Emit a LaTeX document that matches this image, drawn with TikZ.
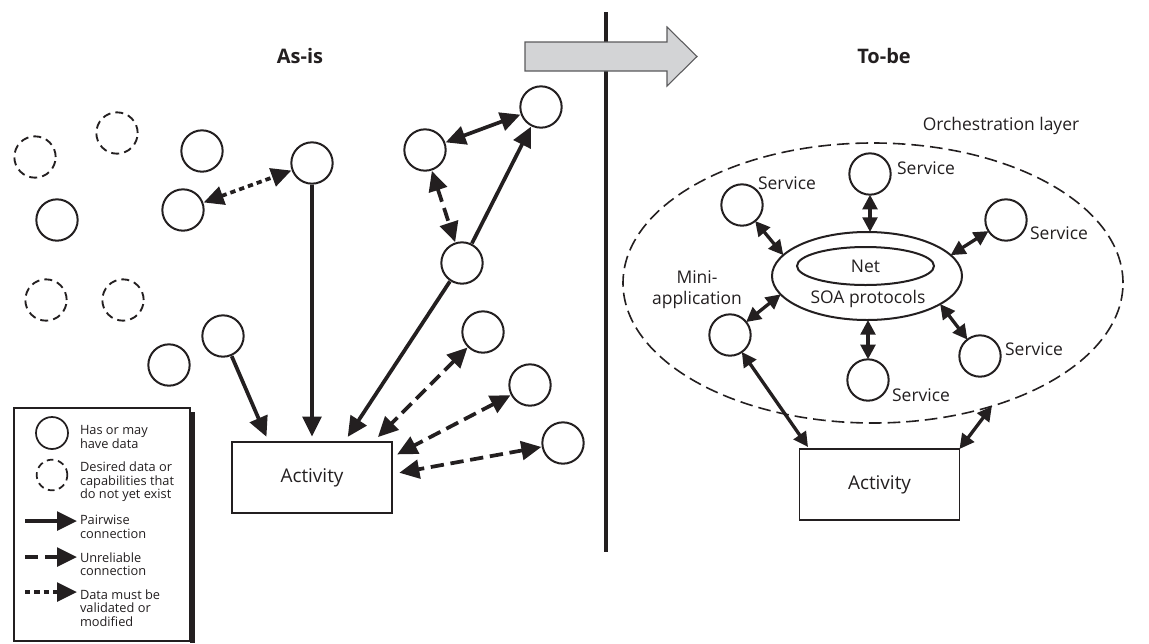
\documentclass[tikz,border=0pt]{standalone}
\usepackage{fontspec}
\setmainfont{Open Sans}
\usetikzlibrary{arrows.meta,shapes.geometric}
\definecolor{ink}{RGB}{35,31,32}
\definecolor{panel}{RGB}{211,212,214}
\definecolor{rim}{RGB}{90,90,92}
\begin{document}
\begin{tikzpicture}[x=0.75pt,y=-0.75pt,
  every node/.style={inner sep=0pt, outer sep=0pt, text=ink},
  datanode/.style={circle, draw=ink, line width=1.5pt, minimum size=31pt},
  ghost/.style={circle, draw=ink, line width=1.4pt, dash pattern=on 6pt off 3.8pt, minimum size=31pt},
  keydata/.style={circle, draw=ink, line width=1.3pt, minimum size=24pt},
  keyghost/.style={circle, draw=ink, line width=1.3pt, dash pattern=on 5pt off 3.5pt, minimum size=23pt},
  actbox/.style={rectangle, draw=ink, line width=1.1pt, minimum width=120pt, minimum height=53.25pt, font=\fontsize{14.2}{17}\selectfont},
  lbl/.style={font=\fontsize{13.1}{15.5}\selectfont},
  keytext/.style={anchor=west, align=left, font=\fontsize{9.6}{10.2}\selectfont},
  title/.style={font=\fontsize{15}{18}\selectfont\bfseries},
  conn/.style={line width=2.8pt, draw=ink, shorten >=1pt, shorten <=1pt, -{Triangle[length=15pt,width=14pt]}},
  connboth/.style={conn, {Triangle[length=15pt,width=14pt]}-{Triangle[length=15pt,width=14pt]}},
  unrel/.style={connboth, dash pattern=on 10pt off 5pt},
  checked/.style={connboth, dash pattern=on 4pt off 3pt},
  soalink/.style={line width=2.5pt, draw=ink, {Triangle[length=11pt,width=11pt]}-{Triangle[length=11pt,width=11pt]}},
  keyarrow/.style={line width=2.8pt, draw=ink, -{Triangle[length=15pt,width=14pt]}},
]
\useasboundingbox (0,0) rectangle (1149,643);

% divider and transition arrow
\draw[ink, line width=3.2pt] (606,12) -- (606,552);
\draw[rim, line width=0.8pt, fill=panel]
  (525,42) -- (667,42) -- (667,27) -- (697,56.5) -- (667,86) -- (667,71) -- (525,71) -- cycle;

\node[title] (asis) at (300,56) {As-is};
\node[title] (tobe) at (884,56) {To-be};

% ---------- current state ----------
\node[ghost] (d1) at (35,157) {};
\node[ghost] (d2) at (117,133) {};
\node[datanode] (s1) at (57,220) {};
\node[ghost] (d3) at (46,300) {};
\node[ghost] (d4) at (123,300) {};
\node[datanode] (s2) at (202,151) {};
\node[datanode] (s3) at (183,210) {};
\node[datanode] (s4) at (312,163) {};
\node[datanode] (s5) at (425,150) {};
\node[datanode] (s6) at (541,107) {};
\node[datanode] (s7) at (462,263) {};
\node[datanode] (s8) at (223,336) {};
\node[datanode] (s9) at (169,365) {};
\node[datanode] (s10) at (483,332) {};
\node[datanode] (s11) at (530,385) {};
\node[datanode] (s12) at (563,443) {};

\node[actbox] (actL) at (312,477.5) {Activity};
\coordinate (inA) at (267,438);
\coordinate (inB) at (312,438);
\coordinate (inC) at (347,438);
\coordinate (inD) at (377,438);
\coordinate (inE) at (396,455);
\coordinate (inF) at (398,473);

\draw[checked] (s3) -- (s4);
\draw[connboth] (s5) -- (s6);
\draw[unrel] (s5) -- (s7);
\draw[conn] (s7) -- (s6);
\draw[conn] (s7) -- (inC);
\draw[conn] (s4) -- (inB);
\draw[conn] (s8) -- (inA);
\draw[unrel] (s10) -- (inD);
\draw[unrel] (s11) -- (inE);
\draw[unrel] (s12) -- (inF);

% ---------- key ----------
\fill[ink] (190,412) rectangle (195,643);
\draw[ink, line width=0.9pt, fill=white] (14,408) rectangle (190,641);
\node[keydata] (k1) at (52,433) {};
\node[keytext] (t1) at (80,437) {Has or may\\have data};
\node[keyghost] (k2) at (52,475) {};
\node[keytext] (t2) at (80,482) {Desired data or\\capabilities that\\do not yet exist};
\coordinate (k3a) at (25,521); \coordinate (k3b) at (77,521);
\draw[keyarrow] (k3a) -- (k3b);
\node[keytext] (t3) at (80,527) {Pairwise\\connection};
\coordinate (k4a) at (25,557); \coordinate (k4b) at (77,557);
\draw[keyarrow, dash pattern=on 10pt off 5pt] (k4a) -- (k4b);
\node[keytext] (t4) at (80,564) {Unreliable\\connection};
\coordinate (k5a) at (25,592); \coordinate (k5b) at (77,592);
\draw[keyarrow, dash pattern=on 4pt off 3pt] (k5a) -- (k5b);
\node[keytext] (t5) at (80,608) {Data must be\\validated or\\modified};

% ---------- target state ----------
\node[ellipse, draw=ink, line width=1.2pt, dash pattern=on 9.5pt off 4.5pt, minimum width=375pt, minimum height=210pt] (orch) at (873,283) {};
\node[lbl] (orchtxt) at (1001,126) {Orchestration layer};

\node[ellipse, draw=ink, line width=1.5pt, minimum width=142.5pt, minimum height=66pt] (soa) at (867,276) {};
\node[ellipse, draw=ink, line width=1.5pt, minimum width=102.75pt, minimum height=28.5pt, lbl] (net) at (865.5,266) {Net};
\node[lbl] (soatxt) at (868,299) {SOA protocols};

\node[datanode] (v1) at (870,174) {};
\node[datanode] (v2) at (742,205) {};
\node[datanode] (v3) at (1006,220) {};
\node[datanode] (v4) at (980,356) {};
\node[datanode] (v5) at (868,380) {};
\node[datanode] (mini) at (730,335) {};

\node[lbl] (v1t) at (926,168) {Service};
\node[lbl] (v2t) at (787,183) {Service};
\node[lbl] (v3t) at (1059,233) {Service};
\node[lbl] (v4t) at (1034,349) {Service};
\node[lbl] (v5t) at (921,395) {Service};
\node[lbl, align=center] (minit) at (697,290) {Mini-\\application};

\draw[soalink] (v1) -- (v1 |- soa.north);
\draw[soalink] (v2) -- (soa.166);
\draw[soalink] (v3) -- (soa.14);
\draw[soalink] (v4) -- (soa.-21);
\draw[soalink] (v5) -- (v5 |- soa.south);
\draw[soalink] (mini) -- (soa.192);

\node[actbox] (actR) at (879.5,484.5) {Activity};
\coordinate (outA) at (808,447);
\draw[soalink] (mini) -- (outA);
\draw[soalink] (actR.north east) -- (orch.-46);
\end{tikzpicture}
\end{document}
